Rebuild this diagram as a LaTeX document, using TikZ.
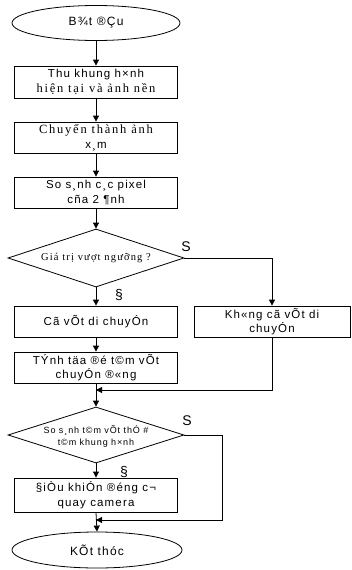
\documentclass[tikz,border=0pt]{standalone}
\usepackage{fontspec}
\setmainfont{Liberation Serif}
\setsansfont{Liberation Sans}
\newfontfamily\sfbox[LetterSpace=10]{Liberation Sans}
\newfontfamily\rmbox[LetterSpace=14]{Liberation Serif}
\newfontfamily\rmdia[LetterSpace=11]{Liberation Serif}
\newfontfamily\sfdia[LetterSpace=10]{Liberation Sans}
\usetikzlibrary{shapes.geometric,arrows.meta}
\begin{document}
\begin{tikzpicture}[x=1pt,y=-1pt,
 line width=0.8pt,
 box/.style={draw, rectangle, minimum width=163pt, minimum height=31pt, inner sep=0pt, align=center, font=\sfbox\fontsize{11.5}{14.5}\selectfont},
 term/.style={draw, ellipse, inner sep=0pt, font=\sfbox\fontsize{12}{14}\selectfont},
 dia/.style={draw, diamond, inner sep=0pt, minimum width=176pt},
 diatext/.style={align=center, inner sep=0pt},
 lbl/.style={font=\sffamily\fontsize{14}{14}\selectfont, inner sep=0pt},
 arr/.style={-{Triangle[length=6pt,width=6pt]}},
]
\useasboundingbox (0,0) rectangle (352,570);
\node[term, minimum width=168pt, minimum height=35pt] (start) at (96,23) {B¾t ®Çu};
\node[box, minimum height=32pt] (b1) at (96,82) {Thu khung h×nh\\{\rmbox\fontsize{12.5}{14.5}\selectfont hiện tại và ảnh nền}};
\node[box] (b2) at (96,137.5) {{\rmbox\fontsize{12.5}{14.5}\selectfont Chuyển thành ảnh}\\x¸m};
\node[box] (b3) at (96,192.5) {So s¸nh c¸c pixel\\cña 2 ¶nh};
\node[dia, minimum height=58pt] (d1) at (96,258) {};
\node[diatext, font=\rmdia\fontsize{10.5}{12}\selectfont] (t1) at (d1.center) {Giá trị vượt ngưỡng ?};
\node[box] (b4) at (96,321.5) {Cã vÕt di chuyÓn};
\node[box, minimum width=156pt] (b5) at (272,321.5) {Kh«ng cã vÕt di\\chuyÓn};
\node[box] (b6) at (96,367.5) {TÝnh täa ®é t©m vÕt\\chuyÓn ®«ng};
\coordinate (j1) at (96,390);
\node[dia, minimum height=56pt] (d2) at (96,435) {};
\node[diatext, font=\sfdia\fontsize{9}{12}\selectfont] (t2) at (96,436) {So s¸nh t©m vÕt thÓ \#\\t©m khung h×nh};
\node[box, minimum height=34pt] (b7) at (96,495) {§iÒu khiÓn ®éng c¬\\quay camera};
\coordinate (k2) at (222,520);
\coordinate (j2) at (96,520);
\node[term, minimum width=170pt, minimum height=36pt] (end) at (97,550) {KÕt thóc};
\node[lbl] (s1) at (186,247) {S};
\node[lbl] (s2) at (187,421) {S};
\node[lbl] (y1) at (119,295) {§};
\node[lbl] (y2) at (124,472) {§};
\draw[arr] (start.south) -- (b1.north);
\draw[arr] (b1.south) -- (b2.north);
\draw[arr] (b2.south) -- (b3.north);
\draw[arr] (b3.south) -- (d1.north);
\draw[arr] (d1.south) -- (b4.north);
\draw[arr] (d1.east) -| (b5.north);
\draw[arr] (b4.south) -- (b6.north);
\draw[arr] (b6.south) -- (d2.north);
\draw[arr] (b5.south) |- (j1);
\draw[arr] (d2.south) -- (b7.north);
\draw[arr] (d2.east) -| (k2) -- (j2);
\draw[arr] (b7.south) -- (end.north);
\end{tikzpicture}
\end{document}
